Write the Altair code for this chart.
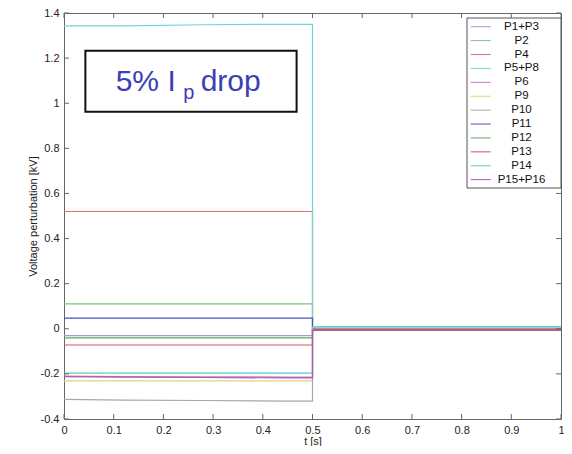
import altair as alt
import pandas as pd

# ---- data ----
series = ["P1+P3", "P2", "P4", "P5+P8", "P6", "P9", "P10", "P11", "P12", "P13", "P14", "P15+P16"]
colors = ["#9c9cdc", "#80c080", "#e07070", "#70d4d4", "#c878c8", "#d8d878",
          "#a8a8a8", "#5050b8", "#60a860", "#d05a5a", "#60c8c8", "#b058b0"]
times = [0.0, 0.12, 0.28, 0.45, 0.5, 0.5, 1.0]
values = {
    "P1+P3":   [-0.030, -0.030, -0.030, -0.030, -0.030, -0.004, -0.004],
    "P2":      [0.110, 0.110, 0.110, 0.110, 0.110, -0.003, -0.003],
    "P4":      [0.520, 0.520, 0.520, 0.520, 0.520, -0.003, -0.003],
    "P5+P8":   [1.343, 1.343, 1.348, 1.350, 1.350, 0.008, 0.008],
    "P6":      [-0.210, -0.212, -0.213, -0.214, -0.214, -0.006, -0.006],
    "P9":      [-0.231, -0.231, -0.231, -0.231, -0.231, -0.003, -0.003],
    "P10":     [-0.313, -0.316, -0.318, -0.321, -0.321, -0.003, -0.003],
    "P11":     [0.047, 0.047, 0.047, 0.047, 0.047, -0.003, -0.003],
    "P12":     [-0.040, -0.040, -0.040, -0.040, -0.040, -0.003, -0.003],
    "P13":     [-0.072, -0.072, -0.072, -0.072, -0.072, -0.003, -0.003],
    "P14":     [-0.197, -0.197, -0.197, -0.197, -0.197, 0.008, 0.008],
    "P15+P16": [-0.212, -0.214, -0.216, -0.218, -0.218, -0.007, -0.007],
}
x_ticks = [0, 0.1, 0.2, 0.3, 0.4, 0.5, 0.6, 0.7, 0.8, 0.9, 1]
y_ticks = [-0.4, -0.2, 0, 0.2, 0.4, 0.6, 0.8, 1, 1.2, 1.4]

# annotation box (data coordinates) and its text pieces
box = {"x": [0.043], "x2": [0.468], "y": [1.233], "y2": [0.962]}
ann_text = ["5% I", "p", "drop"]
ann_x = [0.104, 0.240, 0.275]
ann_y = [1.056, 1.018, 1.056]
ann_size = [30, 20, 30]

W, H = 497, 406
FONT = "Liberation Sans"

rows = []
for s in series:
    for i, (t, v) in enumerate(zip(times, values[s])):
        rows.append({"series": s, "t": t, "v": v, "i": i})
df = pd.DataFrame(rows)

xs = alt.Scale(domain=[0, 1], nice=False, zero=False)
ys = alt.Scale(domain=[-0.4, 1.4], nice=False, zero=False)

lines = alt.Chart(df).mark_line(strokeWidth=1.2, clip=True).encode(
    x=alt.X("t:Q", scale=xs, axis=alt.Axis(values=x_ticks, title="t [s]", labelExpr="''+datum.value",
                                            tickSize=0, domain=False, grid=False, labelPadding=5,
                                            titlePadding=0, labelFontSize=11, titleFontSize=11,
                                            labelFont=FONT, titleFont=FONT, labelColor="#222",
                                            titleColor="#222", titleFontWeight="normal", labelFlush=False)),
    y=alt.Y("v:Q", scale=ys, axis=alt.Axis(values=y_ticks, title="Voltage perturbation [kV]",
                                            labelExpr="''+datum.value", tickSize=0, domain=False,
                                            grid=False, labelPadding=5, titlePadding=2,
                                            labelFontSize=11, titleFontSize=11, labelFont=FONT,
                                            titleFont=FONT, labelColor="#222", titleColor="#222",
                                            titleFontWeight="normal", labelFlush=False)),
    color=alt.Color("series:N", scale=alt.Scale(domain=series, range=colors),
                    legend=alt.Legend(title=None, orient="none", legendX=403, legendY=3,
                                      symbolType="M-2,0L2,0", symbolSize=100, symbolStrokeWidth=1,
                                      symbolOffset=3,
                                      labelFont=FONT, labelFontSize=11.5, labelColor="#111",
                                      labelAlign="center", labelOffset=35, labelLimit=300,
                                      rowPadding=0.9, padding=5, columnPadding=0)),
    order="i:Q",
    detail="series:N",
)

xt = pd.DataFrame({"t": x_ticks})
yt = pd.DataFrame({"v": y_ticks})
tick_style = dict(color="#666", strokeWidth=1)
tb = alt.Chart(xt).mark_rule(**tick_style).encode(x=alt.X("t:Q", scale=xs), y=alt.value(H), y2=alt.value(H - 5))
tt = alt.Chart(xt).mark_rule(**tick_style).encode(x=alt.X("t:Q", scale=xs), y=alt.value(0), y2=alt.value(5))
tl = alt.Chart(yt).mark_rule(**tick_style).encode(y=alt.Y("v:Q", scale=ys), x=alt.value(0), x2=alt.value(5))
tr = alt.Chart(yt).mark_rule(**tick_style).encode(y=alt.Y("v:Q", scale=ys), x=alt.value(W), x2=alt.value(W - 5))

rect = alt.Chart(pd.DataFrame(box)).mark_rect(fill="white", stroke="#111", strokeWidth=2).encode(
    x=alt.X("x:Q", scale=xs), x2="x2:Q", y=alt.Y("y:Q", scale=ys), y2="y2:Q")

# white frame behind the legend entries
legend_frame = alt.Chart(pd.DataFrame({"k": [0]})).mark_rect(fill="white", stroke="#555", strokeWidth=1).encode(
    x=alt.value(403), x2=alt.value(W), y=alt.value(5), y2=alt.value(175))

adf = pd.DataFrame({"txt": ann_text, "x": ann_x, "y": ann_y, "size": ann_size})
texts = alt.Chart(adf).mark_text(align="left", baseline="alphabetic", font=FONT, color="#3b40b4").encode(
    x=alt.X("x:Q", scale=xs), y=alt.Y("y:Q", scale=ys), text="txt:N",
    size=alt.Size("size:Q", scale=None, legend=None))

chart = alt.layer(lines, tb, tt, tl, tr, rect, texts, legend_frame).properties(
    width=W, height=H,
    autosize=alt.AutoSizeParams(type="none"),
    padding={"left": 56, "top": 5, "right": 3, "bottom": 27},
    background="white",
).configure_view(stroke="#666", strokeWidth=1)

chart.save("out.html", embed_options={"renderer": "svg", "actions": False})
